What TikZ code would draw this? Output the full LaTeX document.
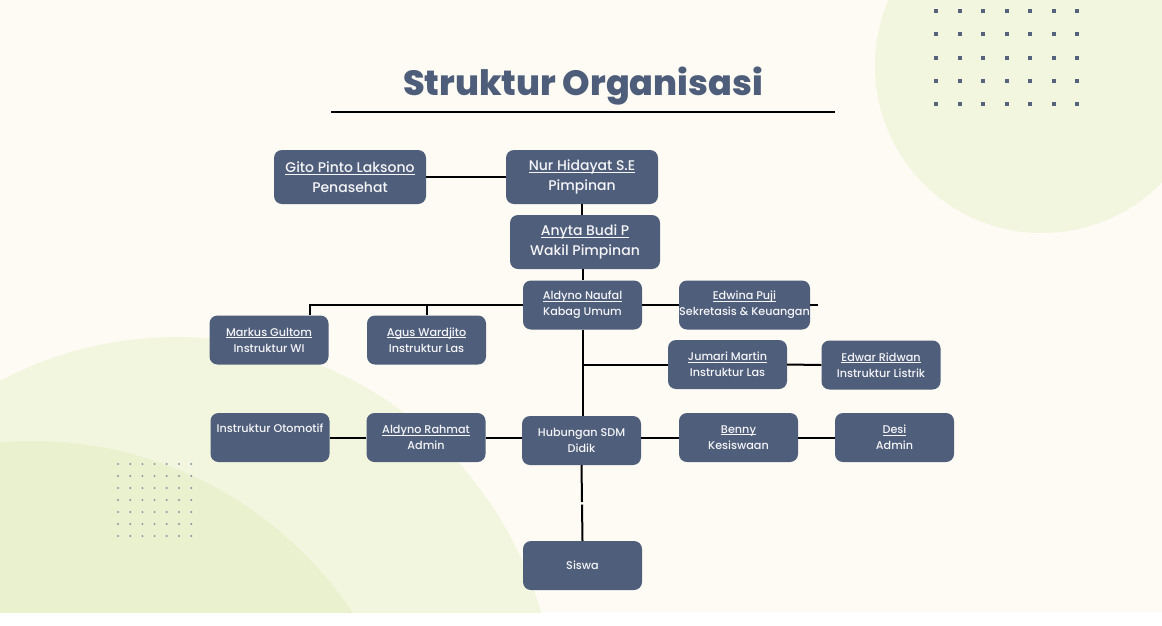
\documentclass[tikz,border=0pt]{standalone}
\usepackage{fontspec}
\setmainfont{Poppins}
\newfontfamily\medfont{Poppins Medium}
\newfontfamily\heavyfont{Poppins ExtraBold}
\usetikzlibrary{calc}
\definecolor{bg}{HTML}{FDFBF3}
\definecolor{circA}{HTML}{F3F6DF}
\definecolor{circB}{HTML}{EAF1CF}
\definecolor{boxc}{HTML}{4F5E7B}
\definecolor{titlec}{HTML}{4E5D7A}
\definecolor{dotc}{HTML}{56637D}
\definecolor{dotd}{HTML}{8C95A6}
\newcommand{\nmu}[1]{\setbox0\hbox{#1}\rlap{\rule[-1.6pt]{\wd0}{0.6pt}}\box0}
\begin{document}
\begin{tikzpicture}[x=1pt,y=-1pt,
  box/.style={fill=boxc, rounded corners=8pt, minimum width=119pt, minimum height=49pt,
    text=white!94!boxc, align=center, inner sep=0pt,
    font=\medfont\fontsize{11.2}{16}\selectfont},
  bigbox/.style={box, minimum width=152pt, minimum height=54pt,
    font=\medfont\fontsize{14}{19.5}\selectfont},
  conn/.style={line width=2pt, black}]
\useasboundingbox (0,0) rectangle (1162,625);
\fill[white] (0,0) rectangle (1162,625);
\fill[bg] (0,0) rectangle (1162,612);
\begin{scope}
\clip (0,0) rectangle (1162,612);
\fill[circA] (1042,66) circle[radius=167pt];
\fill[circA] (177,715) circle[radius=378pt];
\fill[circB] (32,826) circle[radius=385pt];
\end{scope}
% dots
\foreach \i in {0,...,6} \foreach \j in {0,...,4}
  \fill[dotc] ({934+23.5*\i},{9+23.3*\j}) rectangle +(4,4);
\foreach \i in {0,...,6} \foreach \j in {0,...,6}
  \fill[dotd] ({118+12.2*\i},{464+12*\j}) circle[radius=1.1pt];
% title
\node[font=\heavyfont\fontsize{35}{40}\selectfont, text=titlec] (title) at (583,86) {Struktur Organisasi};
\draw[line width=2pt] (331,112) -- (835,112);
% nodes
\node[bigbox] (gito) at (350,177) {\nmu{Gito Pinto Laksono}\\Penasehat};
\node[bigbox] (nur) at (582,177) {\nmu{Nur Hidayat S.E}\\Pimpinan};
\node[bigbox, minimum width=150pt] (anyta) at (585,242) {\nmu{Anyta Budi P}\\Wakil Pimpinan};
\node[box] (naufal) at (582.5,305) {\nmu{Aldyno Naufal}\\Kabag Umum};
\node[box, minimum width=131pt] (edwina) at (744.5,305) {\nmu{Edwina Puji}\\Sekretasis \& Keuangan};
\node[box] (markus) at (269,340) {\nmu{Markus Gultom}\\Instruktur WI};
\node[box] (agus) at (426.5,340) {\nmu{Agus Wardjito}\\Instruktur Las};
\node[box] (jumari) at (727.5,364.5) {\nmu{Jumari Martin}\\Instruktur Las};
\node[box] (edwar) at (881,365) {\nmu{Edwar Ridwan}\\Instruktur Listrik};
\node[box] (otomotif) at (270,437.5) {Instruktur Otomotif\\[-2pt]\strut};
\node[box] (rahmat) at (426,437.5) {\nmu{Aldyno Rahmat}\\Admin};
\node[box] (hub) at (581.5,440.5) {Hubungan SDM\\Didik};
\node[box] (benny) at (738.5,437.5) {\nmu{Benny}\\Kesiswaan};
\node[box] (desi) at (894.5,437.5) {\nmu{Desi}\\Admin};
\node[box] (siswa) at (582.5,565.5) {Siswa};
% connectors
\coordinate (stub) at (818,305);
\coordinate (gapa) at (582,502);
\coordinate (gapb) at (582,504.5);
\draw[conn] (gito.east) -- (nur.west);
\draw[conn] (nur.south) -- (nur.south |- anyta.north);
\draw[conn] (naufal.north |- anyta.south) -- (naufal.north);
\draw[conn] (naufal.west) -- ([xshift=41pt]markus.north |- naufal.west) -- ([xshift=41pt]markus.north);
\draw[conn] (agus.north) -- (agus.north |- naufal.west);
\draw[conn] (naufal.east) -- (edwina.west);
\draw[conn] (edwina.east) -- (stub);
\draw[conn] (naufal.south) -- (naufal.south |- hub.north);
\draw[conn] (jumari.west) -- (jumari.west -| naufal.south);
\draw[conn] (jumari.east) -- (edwar.west);
\draw[conn] (otomotif.east) -- (rahmat.west);
\draw[conn] (rahmat.east) -- (rahmat.east -| hub.west);
\draw[conn] (benny.west) -- (benny.west -| hub.east);
\draw[conn] (benny.east) -- (desi.west);
\draw[conn] (hub.south) -- (gapa);
\draw[conn] (gapb) -- (siswa.north);
\end{tikzpicture}
\end{document}
